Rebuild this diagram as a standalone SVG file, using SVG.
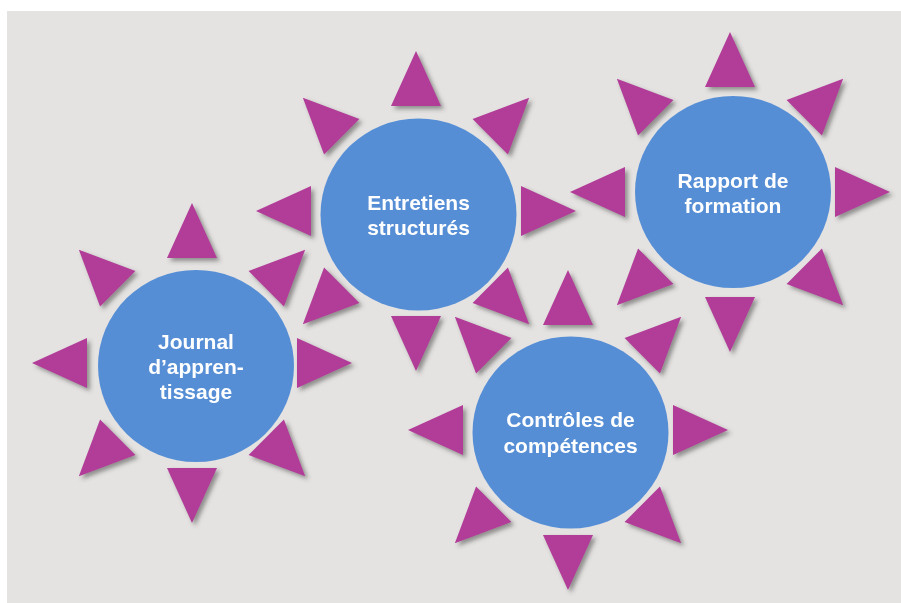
<svg xmlns="http://www.w3.org/2000/svg" xmlns:xlink="http://www.w3.org/1999/xlink" width="901" height="603" viewBox="0 0 901 603">
  <defs>
    <style>
      .ray { fill: #b13c98; }
      .disc { fill: #568ed6; }
      .label { font-family: "Liberation Sans", Arial, sans-serif; font-weight: bold; font-size: 21px; fill: #ffffff; text-anchor: middle; }
    </style>
    <!-- one ray of a sun, pointing up from the sun's centre -->
    <polygon id="ray" class="ray" points="0,-160 25,-105 -25,-105"/>
    <!-- the eight rays around a centre -->
    <g id="rays">
      <use xlink:href="#ray" href="#ray"/>
      <use xlink:href="#ray" href="#ray" transform="rotate(45)"/>
      <use xlink:href="#ray" href="#ray" transform="rotate(90)"/>
      <use xlink:href="#ray" href="#ray" transform="rotate(135)"/>
      <use xlink:href="#ray" href="#ray" transform="rotate(180)"/>
      <use xlink:href="#ray" href="#ray" transform="rotate(225)"/>
      <use xlink:href="#ray" href="#ray" transform="rotate(270)"/>
      <use xlink:href="#ray" href="#ray" transform="rotate(315)"/>
    </g>
    <filter id="shadow" x="-20%" y="-20%" width="140%" height="140%">
      <feDropShadow dx="3" dy="3" stdDeviation="2" flood-color="#4a4a4a" flood-opacity="0.55"/>
    </filter>
  </defs>

  <!-- panel -->
  <rect x="0" y="0" width="901" height="603" fill="#ffffff"/>
  <rect x="7" y="11" width="894" height="592" fill="#e4e3e1"/>

  <!-- rays of all suns, shadowed -->
  <g filter="url(#shadow)">
    <use xlink:href="#rays" href="#rays" transform="translate(192,363)"/>
    <use xlink:href="#rays" href="#rays" transform="translate(416,211)"/>
    <use xlink:href="#rays" href="#rays" transform="translate(730,192)"/>
    <use xlink:href="#rays" href="#rays" transform="translate(568,430)"/>
  </g>

  <g id="journal">
    <ellipse class="disc" cx="196" cy="366" rx="98" ry="96"/>
    <text class="label" x="196" y="349">Journal</text>
    <text class="label" x="196" y="374">d’appren-</text>
    <text class="label" x="196" y="399">tissage</text>
  </g>

  <g id="entretiens">
    <ellipse class="disc" cx="418.5" cy="214.5" rx="98" ry="96"/>
    <text class="label" x="418.5" y="210">Entretiens</text>
    <text class="label" x="418.5" y="235">structurés</text>
  </g>

  <g id="rapport">
    <ellipse class="disc" cx="733" cy="192" rx="98" ry="96"/>
    <text class="label" x="733" y="188">Rapport de</text>
    <text class="label" x="733" y="213">formation</text>
  </g>

  <g id="controles">
    <ellipse class="disc" cx="570.5" cy="432.5" rx="98" ry="96"/>
    <text class="label" x="570.5" y="427">Contrôles de</text>
    <text class="label" x="570.5" y="453">compétences</text>
  </g>
</svg>
